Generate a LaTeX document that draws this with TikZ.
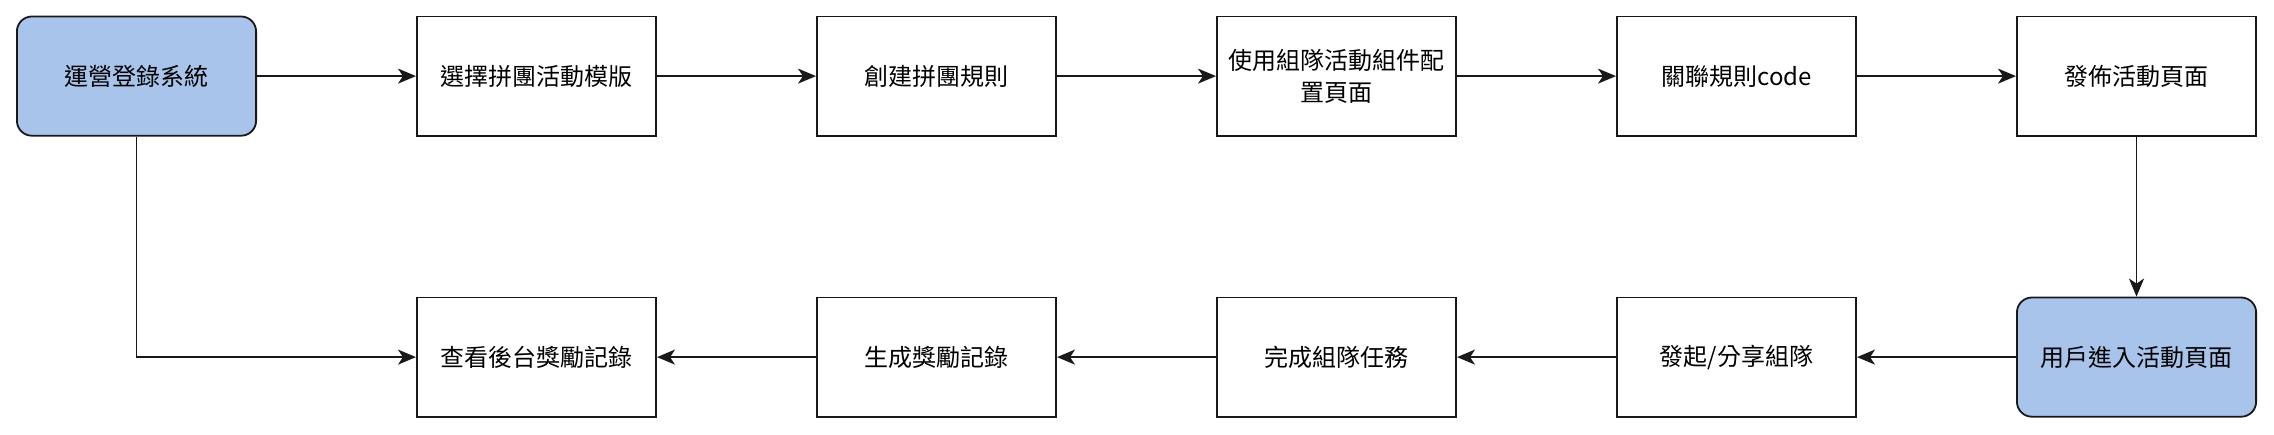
\documentclass[tikz,border=0pt]{standalone}
\usepackage{fontspec}
\setmainfont{Noto Sans CJK TC}
\usetikzlibrary{arrows.meta, positioning}
\definecolor{loginblue}{HTML}{A9C4EB}
\definecolor{edgegray}{RGB}{25,25,25}

\begin{document}
\begin{tikzpicture}[
    node distance=80pt and 79.5pt,
    every node/.style={font=\fontsize{12pt}{16pt}\selectfont},
    stepbox/.style={draw=edgegray, line width=0.9pt, minimum width=119.6pt, minimum height=59.6pt, text width=112pt, align=center, inner sep=0pt},
    userbox/.style={stepbox, fill=loginblue, rounded corners=7.5pt},
    flow/.style={-{Stealth[length=9pt, width=7.5pt, inset=2.5pt]}, line width=0.9pt, draw=edgegray}
]
    \useasboundingbox (0,0) rectangle (1137pt,-217pt);
    % top row
    \node[userbox, anchor=north west] (login) at (8pt,-7.8pt) {運營登錄系統};
    \node[stepbox, right=of login] (template) {選擇拼團活動模版};
    \node[stepbox, right=of template] (rule) {創建拼團規則};
    \node[stepbox, right=of rule] (widget) {使用組隊活動組件配\\置頁面};
    \node[stepbox, right=of widget] (code) {關聯規則code};
    \node[stepbox, right=of code] (publish) {發佈活動頁面};
    % bottom row
    \node[userbox, below=of publish] (enter) {用戶進入活動頁面};
    \node[stepbox, left=of enter] (share) {發起/分享組隊};
    \node[stepbox, left=of share] (task) {完成組隊任務};
    \node[stepbox, left=of task] (reward) {生成獎勵記錄};
    \node[stepbox, left=of reward] (records) {查看後台獎勵記錄};

    \draw[flow] (login) -- (template);
    \draw[flow] (template) -- (rule);
    \draw[flow] (rule) -- (widget);
    \draw[flow] (widget) -- (code);
    \draw[flow] (code) -- (publish);
    \draw[flow] (publish) -- (enter);
    \draw[flow] (enter) -- (share);
    \draw[flow] (share) -- (task);
    \draw[flow] (task) -- (reward);
    \draw[flow] (reward) -- (records);
    \draw[flow] (login.south) |- (records.west);
\end{tikzpicture}
\end{document}
